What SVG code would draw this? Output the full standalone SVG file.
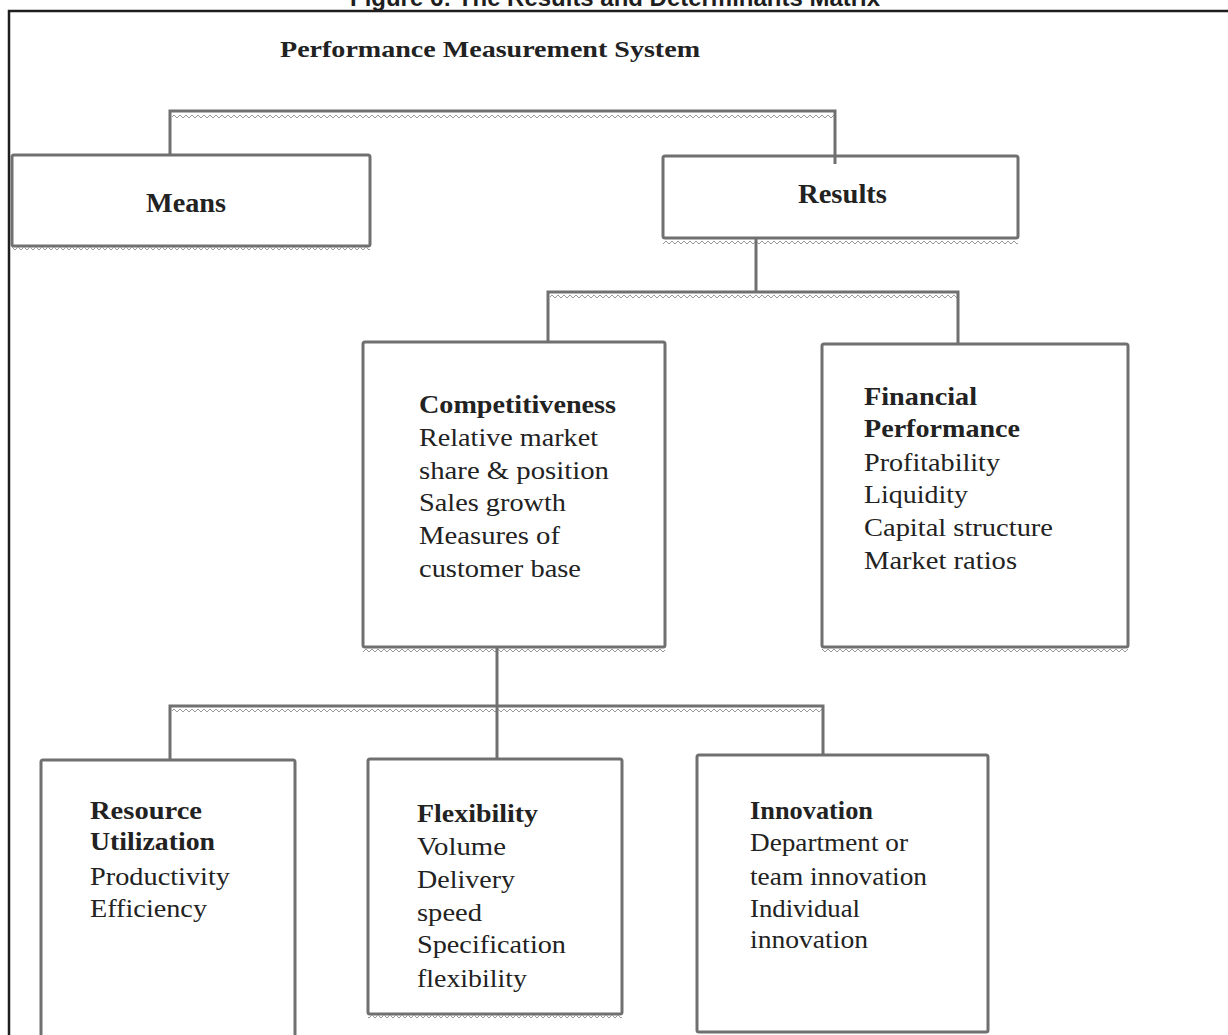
<svg xmlns="http://www.w3.org/2000/svg" width="1228" height="1035" viewBox="0 0 1228 1035">
  <defs>
    <!-- small zig-zag trim used under boxes and bus lines -->
    <pattern id="zig" x="0" y="0" width="6" height="6" patternUnits="userSpaceOnUse">
      <path d="M0,1 L3,4 L6,1" fill="none" stroke="#9a9a9a" stroke-width="1"/>
    </pattern>
    <style>
      .frame { stroke: #1e1e1e; stroke-width: 2.5; fill: none; }
      .box { fill: #ffffff; stroke: #707070; stroke-width: 3; }
      .trim { fill: url(#zig); }
      .wire { fill: none; stroke: #707070; stroke-width: 3; }
      .fig { font-family: "Liberation Sans", Arial, sans-serif; font-weight: bold; font-size: 24px; fill: #1e1e1e; }
      .t { font-family: "Liberation Serif", "Times New Roman", serif; font-size: 25px; fill: #222222; }
      .b { font-weight: bold; }
      .big { font-size: 27px; font-weight: bold; }
    </style>
  </defs>

  <rect width="1228" height="1035" fill="#ffffff"/>

  <!-- caption, clipped by the top edge -->
  <text class="fig" x="350" y="6" textLength="530" lengthAdjust="spacingAndGlyphs">Figure 6: The Results and Determinants Matrix</text>

  <!-- outer frame -->
  <path class="frame" d="M9,1035 V11 H1228"/>

  <text class="t b" x="280" y="57" style="font-size:24px" textLength="420" lengthAdjust="spacingAndGlyphs">Performance Measurement System</text>

  <!-- nodes -->
  <g id="means">
    <rect class="box" x="12" y="155" width="358" height="91" rx="2"/>
    <rect class="trim" x="12" y="247" width="358" height="6"/>
    <text class="t big" x="146" y="212" textLength="80" lengthAdjust="spacingAndGlyphs">Means</text>
  </g>

  <g id="results">
    <rect class="box" x="663" y="156" width="355" height="82" rx="2"/>
    <rect class="trim" x="663" y="239" width="355" height="6"/>
    <text class="t big" x="798" y="203" textLength="89" lengthAdjust="spacingAndGlyphs">Results</text>
  </g>

  <g id="competitiveness">
    <rect class="box" x="363" y="342" width="302" height="305" rx="2"/>
    <rect class="trim" x="363" y="648" width="302" height="6"/>
    <text class="t b" x="419" y="413" textLength="197" lengthAdjust="spacingAndGlyphs">Competitiveness</text>
    <text class="t" x="419" y="446" textLength="179" lengthAdjust="spacingAndGlyphs">Relative market</text>
    <text class="t" x="419" y="479" textLength="190" lengthAdjust="spacingAndGlyphs">share &amp; position</text>
    <text class="t" x="419" y="511" textLength="147" lengthAdjust="spacingAndGlyphs">Sales growth</text>
    <text class="t" x="419" y="544" textLength="141" lengthAdjust="spacingAndGlyphs">Measures of</text>
    <text class="t" x="419" y="577" textLength="162" lengthAdjust="spacingAndGlyphs">customer base</text>
  </g>

  <g id="financial-performance">
    <rect class="box" x="822" y="344" width="306" height="303" rx="2"/>
    <rect class="trim" x="822" y="648" width="306" height="6"/>
    <text class="t b" x="864" y="405" textLength="113" lengthAdjust="spacingAndGlyphs">Financial</text>
    <text class="t b" x="864" y="437" textLength="156" lengthAdjust="spacingAndGlyphs">Performance</text>
    <text class="t" x="864" y="471" textLength="136" lengthAdjust="spacingAndGlyphs">Profitability</text>
    <text class="t" x="864" y="503" textLength="104" lengthAdjust="spacingAndGlyphs">Liquidity</text>
    <text class="t" x="864" y="536" textLength="189" lengthAdjust="spacingAndGlyphs">Capital structure</text>
    <text class="t" x="864" y="569" textLength="153" lengthAdjust="spacingAndGlyphs">Market ratios</text>
  </g>

  <g id="resource-utilization">
    <rect class="box" x="41" y="760" width="254" height="300" rx="2"/>
    <text class="t b" x="90" y="819" textLength="112" lengthAdjust="spacingAndGlyphs">Resource</text>
    <text class="t b" x="90" y="850" textLength="125" lengthAdjust="spacingAndGlyphs">Utilization</text>
    <text class="t" x="90" y="885" textLength="140" lengthAdjust="spacingAndGlyphs">Productivity</text>
    <text class="t" x="90" y="917" textLength="117" lengthAdjust="spacingAndGlyphs">Efficiency</text>
  </g>

  <g id="flexibility">
    <rect class="box" x="368" y="759" width="254" height="255" rx="2"/>
    <rect class="trim" x="368" y="1015" width="254" height="6"/>
    <text class="t b" x="417" y="822" textLength="121" lengthAdjust="spacingAndGlyphs">Flexibility</text>
    <text class="t" x="417" y="855" textLength="89" lengthAdjust="spacingAndGlyphs">Volume</text>
    <text class="t" x="417" y="888" textLength="98" lengthAdjust="spacingAndGlyphs">Delivery</text>
    <text class="t" x="417" y="921" textLength="65" lengthAdjust="spacingAndGlyphs">speed</text>
    <text class="t" x="417" y="953" textLength="149" lengthAdjust="spacingAndGlyphs">Specification</text>
    <text class="t" x="417" y="987" textLength="110" lengthAdjust="spacingAndGlyphs">flexibility</text>
  </g>

  <g id="innovation">
    <rect class="box" x="697" y="755" width="291" height="277" rx="2"/>
    <text class="t b" x="750" y="819" textLength="123" lengthAdjust="spacingAndGlyphs">Innovation</text>
    <text class="t" x="750" y="851" textLength="158" lengthAdjust="spacingAndGlyphs">Department or</text>
    <text class="t" x="750" y="885" textLength="177" lengthAdjust="spacingAndGlyphs">team innovation</text>
    <text class="t" x="750" y="917" textLength="110" lengthAdjust="spacingAndGlyphs">Individual</text>
    <text class="t" x="750" y="948" textLength="118" lengthAdjust="spacingAndGlyphs">innovation</text>
  </g>

  <!-- tree connectors -->
  <g id="connectors">
    <rect class="trim" x="172" y="113" width="663" height="6"/>
    <path class="wire" d="M170,155 V111 H835 V164"/>
    <rect class="trim" x="550" y="294" width="408" height="6"/>
    <path class="wire" d="M756,238 V292"/>
    <path class="wire" d="M548,342 V292 H958 V344"/>
    <rect class="trim" x="172" y="708" width="651" height="6"/>
    <path class="wire" d="M497,647 V759"/>
    <path class="wire" d="M170,760 V706 H823 V755"/>
  </g>
</svg>
